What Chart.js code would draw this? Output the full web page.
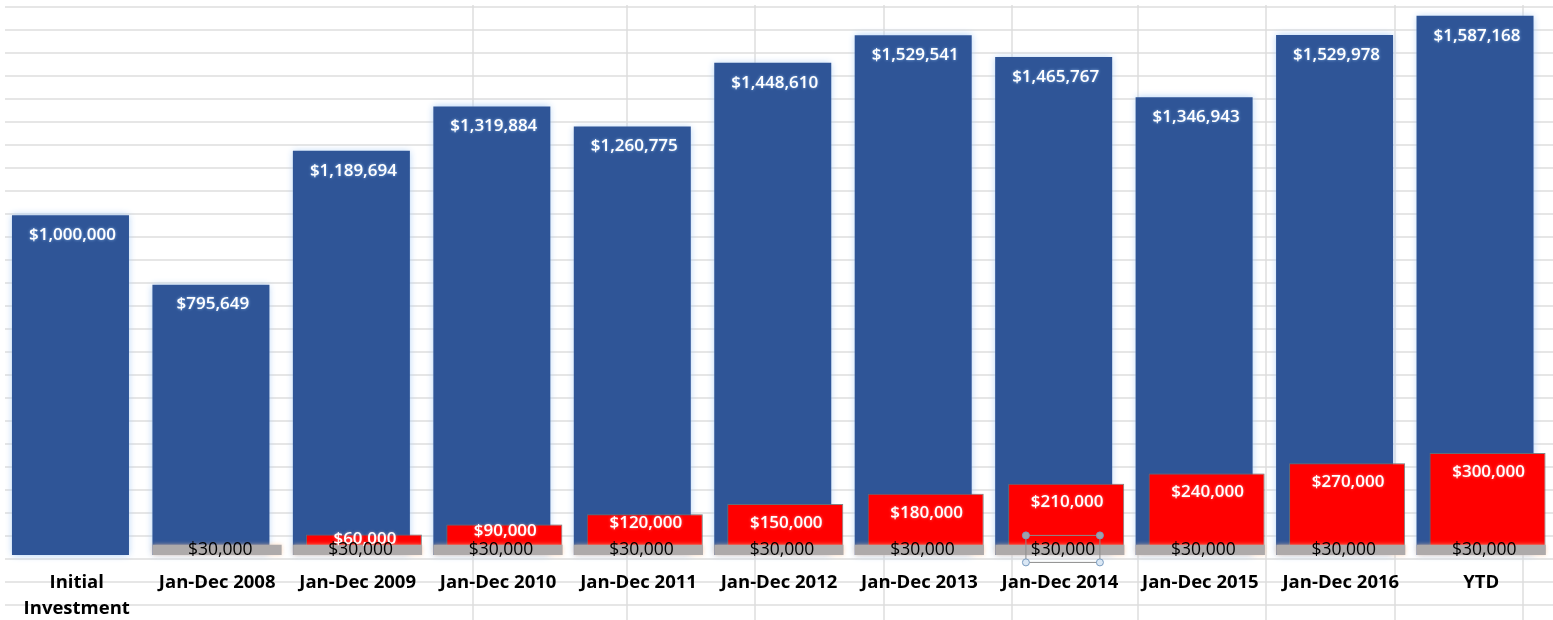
<!DOCTYPE html>
<html>
<head>
<meta charset="utf-8">
<title>Account value vs withdrawals</title>
<script src="https://cdn.jsdelivr.net/npm/chart.js@4.4.1/dist/chart.umd.min.js"></script>
<style>
  html, body { margin: 0; padding: 0; background: #fff; }
  #wrap { width: 1553px; height: 620px; position: relative; }
</style>
</head>
<body>
<div id="wrap"><canvas id="balanceChart"></canvas></div>
<script>
// Values
const periods = [['Initial', 'Investment'], 'Jan-Dec 2008', 'Jan-Dec 2009', 'Jan-Dec 2010', 'Jan-Dec 2011',
    'Jan-Dec 2012', 'Jan-Dec 2013', 'Jan-Dec 2014', 'Jan-Dec 2015', 'Jan-Dec 2016', 'YTD'];
const accountValue = [1000000, 795649, 1189694, 1319884, 1260775, 1448610, 1529541, 1465767, 1346943, 1529978, 1587168];
const totalWithdrawn = [null, null, 60000, 90000, 120000, 150000, 180000, 210000, 240000, 270000, 300000];
const yearlyWithdrawal = [null, 30000, 30000, 30000, 30000, 30000, 30000, 30000, 30000, 30000, 30000];

function money(v) {
    return '$' + v.toLocaleString('en-US');
}

// Excel sheet cells behind the chart object
const sheetGrid = {
    id: 'sheetGrid',
    beforeDraw(chart) {
        const ctx = chart.ctx;
        ctx.save();
        ctx.fillStyle = '#fff';
        ctx.fillRect(0, 0, chart.width, chart.height);
        ctx.strokeStyle = '#dedede';
        ctx.lineWidth = 1.5;
        ctx.beginPath();
        for (let y = 7; y < chart.height; y += 23) {
            ctx.moveTo(5, y);
            ctx.lineTo(chart.width, y);
        }
        [473, 627, 755, 884, 1012, 1138, 1266, 1395, 1523].forEach(x => {
            ctx.moveTo(x, 5);
            ctx.lineTo(x, chart.height);
        });
        ctx.stroke();
        ctx.restore();
    }
};

// Draw blue, then red, then gray on top, each with its own glow, then the value labels
const barLayers = {
    id: 'barLayers',
    beforeDatasetDraw() {
        return false;
    },
    afterDatasetsDraw(chart) {
        const ctx = chart.ctx;
        chart.data.datasets.forEach((ds, i) => {
            ctx.save();
            ctx.shadowColor = ds.glow;
            ctx.shadowBlur = ds.glowSize;
            chart.getDatasetMeta(i).controller.draw();
            ctx.restore();
        });

        ctx.save();
        ctx.textAlign = 'center';
        ctx.textBaseline = 'middle';

        // blue labels
        ctx.font = '600 17px "Open Sans"';
        ctx.fillStyle = '#fff';
        ctx.shadowColor = 'rgba(150,190,240,0.9)';
        ctx.shadowBlur = 3;
        chart.getDatasetMeta(0).data.forEach((bar, j) => {
            if (accountValue[j] == null) return;
            ctx.fillText(money(accountValue[j]), bar.x + 2, bar.y + 20);
        });

        // red labels
        ctx.shadowColor = 'rgba(255,200,200,0.6)';
        chart.getDatasetMeta(1).data.forEach((bar, j) => {
            if (totalWithdrawn[j] == null) return;
            const h = bar.base - bar.y;
            const off = h < 48 ? h * 0.22 : 19;
            ctx.fillText(money(totalWithdrawn[j]), bar.x + 1, bar.y + off);
        });

        // gray labels
        ctx.font = '400 17.5px "Open Sans"';
        ctx.fillStyle = '#000';
        ctx.shadowBlur = 0;
        chart.getDatasetMeta(2).data.forEach((bar, j) => {
            if (yearlyWithdrawal[j] == null) return;
            ctx.fillText(money(yearlyWithdrawal[j]), bar.x + 3, (bar.y + bar.base) / 2);
        });

        // the label that was selected when the picture was taken
        const sel = chart.getDatasetMeta(2).data[7];
        const cx = sel.x + 3, cy = (sel.y + sel.base) / 2 - 1;
        ctx.strokeStyle = '#8c8c8c';
        ctx.lineWidth = 1;
        ctx.strokeRect(cx - 37, cy - 13.5, 74, 27);
        [[-37, -13.5, '#a0a0a8'], [37, -13.5, '#a0a0a8'], [-37, 13.5, '#dbe8f5'], [37, 13.5, '#dbe8f5']].forEach(p => {
            ctx.beginPath();
            ctx.arc(cx + p[0], cy + p[1], 3.5, 0, Math.PI * 2);
            ctx.fillStyle = p[2];
            ctx.fill();
            ctx.strokeStyle = '#7a9cc0';
            ctx.stroke();
        });
        ctx.restore();
    }
};

const ctx = document.getElementById('balanceChart');
new Chart(ctx, {
    type: 'bar',
    data: {
        labels: periods,
        datasets: [
            {
                label: 'Account Value',
                data: accountValue,
                backgroundColor: '#2f5597',
                borderWidth: 0,
                categoryPercentage: 0.178,
                barPercentage: 9.36,
                glow: 'rgba(170,205,245,0.95)',
                glowSize: 7
            },
            {
                label: 'Total Withdrawn',
                data: totalWithdrawn,
                backgroundColor: '#ff0000',
                borderColor: 'rgba(110,110,110,0.8)',
                borderWidth: 1,
                categoryPercentage: 0.178,
                barPercentage: 9.28,
                glow: 'rgba(120,120,120,0.5)',
                glowSize: 3
            },
            {
                label: 'Yearly Withdrawal',
                data: yearlyWithdrawal,
                backgroundColor: '#aeaaaa',
                borderWidth: 0,
                grouped: false,
                categoryPercentage: 1,
                barPercentage: 0.918,
                glow: 'rgba(250,200,160,0.7)',
                glowSize: 4
            }
        ]
    },
    options: {
        responsive: true,
        maintainAspectRatio: false,
        animation: false,
        layout: {
            padding: { left: 6.5, right: 1.5, top: 11.3, bottom: 0 }
        },
        scales: {
            x: {
                grid: { display: false, drawTicks: false },
                border: { display: false },
                ticks: {
                    color: '#000',
                    padding: 15,
                    maxRotation: 0,
                    autoSkip: false,
                    font: { family: '"Open Sans"', size: 18.5, weight: 'bold', lineHeight: 1.4 }
                },
                afterFit(scale) {
                    scale.height = 65;
                }
            },
            y: {
                display: false,
                min: 0,
                max: 1600000
            }
        },
        plugins: {
            legend: { display: false },
            tooltip: { enabled: false }
        }
    },
    plugins: [sheetGrid, barLayers]
});
</script>
</body>
</html>
